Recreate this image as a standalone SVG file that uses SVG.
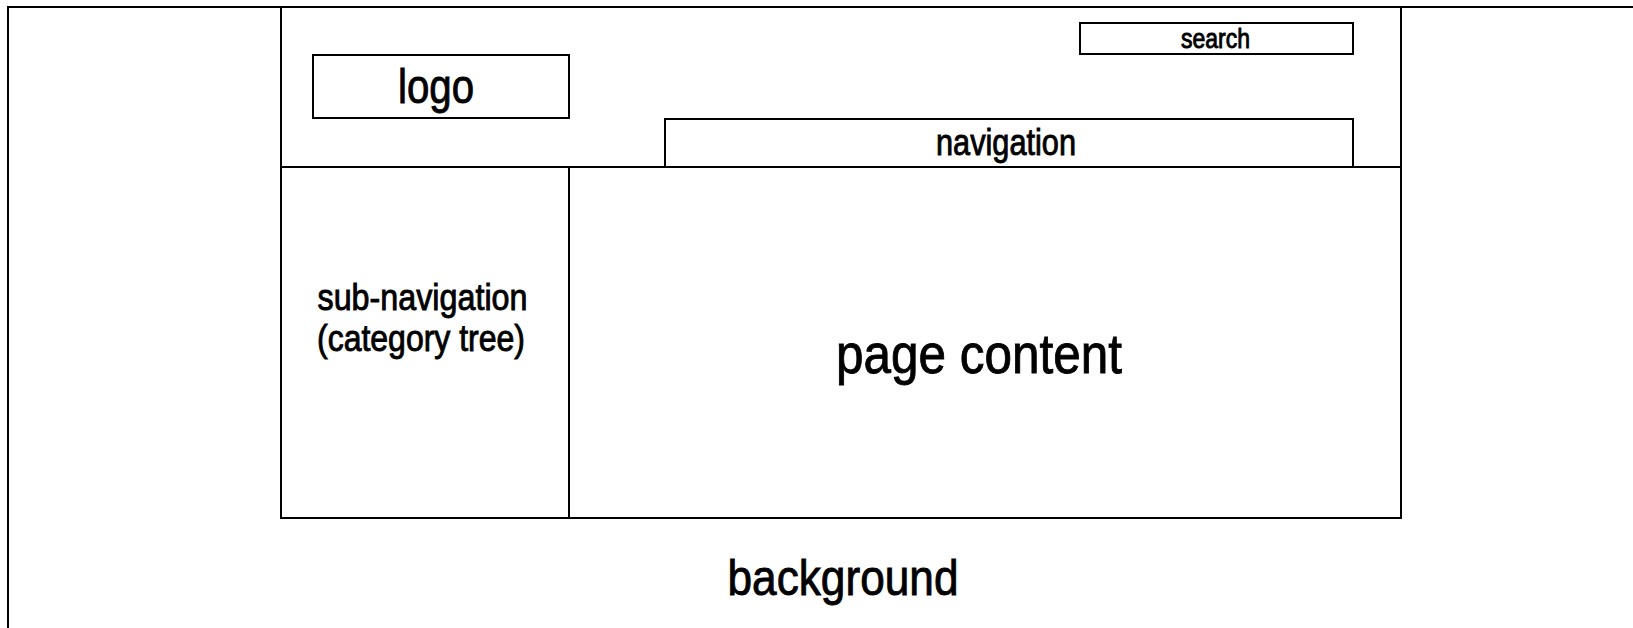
<svg xmlns="http://www.w3.org/2000/svg" width="1633" height="628" viewBox="0 0 1633 628">
  <style>
    .ln { fill: none; stroke: #000; stroke-width: 2; }
    .t { font-family: "Liberation Sans", Arial, sans-serif; fill: #000; stroke: #000; stroke-width: 0.9; text-anchor: middle; }
  </style>
  <rect width="1633" height="628" fill="#fff"/>
  <g id="background">
    <path class="ln" d="M8,640 V7 H1650"/>
    <text class="t" x="843" y="595" font-size="50" textLength="231" lengthAdjust="spacingAndGlyphs">background</text>
  </g>
  <g id="page">
    <rect class="ln" x="281" y="7" width="1120" height="511"/>
  </g>
  <g id="header">
    <line class="ln" x1="281" y1="167" x2="1401" y2="167"/>
  </g>
  <g id="logo">
    <rect class="ln" x="313" y="55" width="256" height="63"/>
    <text class="t" x="436" y="103" font-size="48" textLength="76" lengthAdjust="spacingAndGlyphs">logo</text>
  </g>
  <g id="search">
    <rect class="ln" x="1080" y="23" width="273" height="31"/>
    <text class="t" x="1215.5" y="47.5" font-size="27" textLength="69" lengthAdjust="spacingAndGlyphs">search</text>
  </g>
  <g id="navigation">
    <path class="ln" d="M665,167 V119 H1353 V167"/>
    <text class="t" x="1006" y="154.5" font-size="36" textLength="140" lengthAdjust="spacingAndGlyphs">navigation</text>
  </g>
  <g id="sub-navigation">
    <line class="ln" x1="569" y1="167" x2="569" y2="518"/>
    <text class="t" x="422.5" y="310" font-size="36" textLength="210" lengthAdjust="spacingAndGlyphs">sub-navigation</text>
    <text class="t" x="421" y="351" font-size="36" textLength="208" lengthAdjust="spacingAndGlyphs">(category tree)</text>
  </g>
  <g id="page-content">
    <text class="t" x="979" y="373" font-size="56" textLength="286" lengthAdjust="spacingAndGlyphs">page content</text>
  </g>
  <g id="connectors"/>
</svg>
